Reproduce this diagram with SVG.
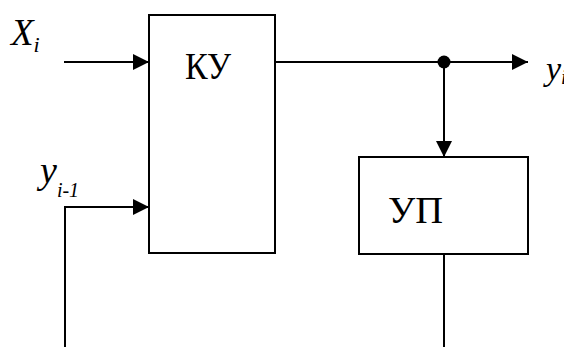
<svg xmlns="http://www.w3.org/2000/svg" width="564" height="347" viewBox="0 0 564 347">
<defs>
<style>
.box{fill:none;stroke:#000;stroke-width:2}
.ln{fill:none;stroke:#000;stroke-width:2}
.lbl{font-family:'Liberation Serif','Times New Roman',serif;font-size:38px;fill:#000}
.it{font-family:'Liberation Serif','Times New Roman',serif;font-style:italic;fill:#000}
</style>
<marker id="ah" viewBox="0 0 16 16" refX="16" refY="8" markerWidth="16" markerHeight="16" markerUnits="userSpaceOnUse" orient="auto">
<path d="M0,0 L16,8 L0,16 Z" fill="#000"/>
</marker>
</defs>
<rect width="564" height="347" fill="#fff"/>
<g id="ku">
<rect class="box" x="149" y="15" width="126" height="238"/>
<text class="lbl" x="185" y="79" textLength="46" lengthAdjust="spacingAndGlyphs">КУ</text>
</g>
<g id="up">
<rect class="box" x="359" y="157" width="169" height="97"/>
<text class="lbl" x="388" y="223" textLength="55" lengthAdjust="spacingAndGlyphs">УП</text>
</g>
<g id="labels">
<text class="it" x="11" y="45" font-size="37">X<tspan font-size="22" dy="7">i</tspan></text>
<text class="it" x="546" y="80" font-size="34">y<tspan font-size="20" dy="4">i</tspan></text>
<text class="it" x="40" y="183" font-size="38">y<tspan font-size="20" dy="14">i-1</tspan></text>
</g>
<g id="connectors">
<line class="ln" x1="64" y1="62" x2="149" y2="62" marker-end="url(#ah)"/>
<line class="ln" x1="275" y1="62" x2="528" y2="62" marker-end="url(#ah)"/>
<circle cx="444" cy="62" r="6.5" fill="#000"/>
<line class="ln" x1="444" y1="62" x2="444" y2="157" marker-end="url(#ah)"/>
<line class="ln" x1="444" y1="254" x2="444" y2="347"/>
<polyline class="ln" points="65,347 65,207 149,207" marker-end="url(#ah)"/>
</g>
</svg>
